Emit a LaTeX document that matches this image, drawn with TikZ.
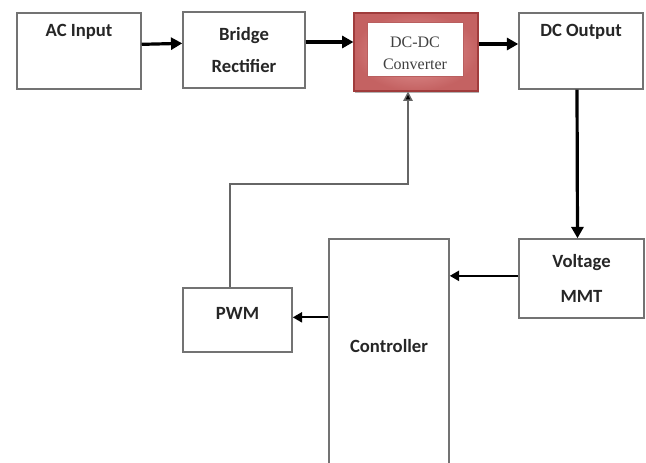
\documentclass[tikz,border=0pt]{standalone}
\usepackage{fontspec}
\setmainfont{Carlito}
\newfontfamily\timesfont{Liberation Serif}
\usetikzlibrary{arrows.meta,shadows}

\begin{document}
\begin{tikzpicture}[x=0.75pt,y=-0.75pt,>={Triangle[length=8.5pt,width=9pt]},
    lbl/.style={font=\fontsize{14}{24}\selectfont\bfseries,text=black!85,align=center},
    blk/.style={draw=black!55,line width=1.1pt,fill=white,inner sep=0pt,
      minimum width=93pt,minimum height=57pt,lbl},
    conv/.style={draw={rgb,255:red,160;green,60;blue,60},line width=0.8pt,
      inner color={rgb,255:red,232;green,160;blue,160},
      outer color={rgb,255:red,196;green,98;blue,98},minimum width=93pt,minimum height=58.5pt,
      drop shadow={shadow xshift=0.6pt,shadow yshift=-1.6pt,opacity=0.6}},
    convin/.style={draw={rgb,255:red,185;green,95;blue,95},line width=0.6pt,fill=white,
      minimum width=72pt,minimum height=40.5pt,inner sep=0pt},
    convtxt/.style={align=center,font=\fontsize{12}{17}\timesfont,text=black!75},
    bus/.style={->,line width=2.4pt},
    link/.style={->,line width=1.6pt,>={Triangle[length=7pt,width=7.5pt]}},
    feed/.style={->,draw=black!60,line width=1.1pt,>={Triangle[length=7pt,width=7pt,fill=black]}}]

  \useasboundingbox (0,0) rectangle (646,462);
  \clip (0,0) rectangle (646,462);
  \fill[white] (0,0) rectangle (646,462);

  % top row
  \node[blk,label={[lbl,anchor=center,yshift=-15pt]north:AC Input}] (ac) at (79,51) {};
  \node[blk,minimum width=91.5pt] (br) at (244,50) {Bridge\\Rectifier};
  \node[conv] (dcdc) at (416,52) {};
  \node[convin,label={[convtxt,yshift=-3.3pt]center:DC-DC\\Converter}] (dcdcin) at (415,49) {};
  \node[blk,label={[lbl,anchor=center,yshift=-15pt]north:DC Output}] (dco) at (581,51) {};

  % feedback loop
  \node[blk,minimum width=93.75pt,minimum height=59.25pt,
        font=\fontsize{14}{26}\selectfont\bfseries] (vm) at (581.5,278.5) {Voltage\\MMT};
  \node[blk,minimum width=90pt,minimum height=173.25pt,
        label={[lbl,yshift=6pt]center:Controller}] (ctrl) at (389,354.5) {};
  \node[blk,minimum width=81.75pt,minimum height=48pt,
        label={[lbl,yshift=5pt]center:PWM}] (pwm) at (237.5,320) {};
  \coordinate (fb) at (408,184);

  \draw[bus] ([yshift=5pt]ac.east) -- ([yshift=5pt]br.west);
  \draw[bus] ([yshift=6pt]br.east) -- ([yshift=6pt]br.east -| dcdc.west);
  \draw[bus] ([yshift=6pt]dcdc.east) -- ([yshift=6pt]dcdc.east -| dco.west);
  \draw[bus] ([xshift=-3pt]dco.south) -- ([xshift=-3pt]vm.north);
  \draw[link,line width=1.8pt] ([yshift=2pt]vm.west) -- ([yshift=2pt]vm.west -| ctrl.east);
  \draw[link] ([yshift=2pt]pwm.east -| ctrl.west) -- ([yshift=2pt]pwm.east);
  \draw[feed] ([xshift=-5.5pt]pwm.north) |- (fb) -- (fb |- dcdc.south);

\end{tikzpicture}
\end{document}
